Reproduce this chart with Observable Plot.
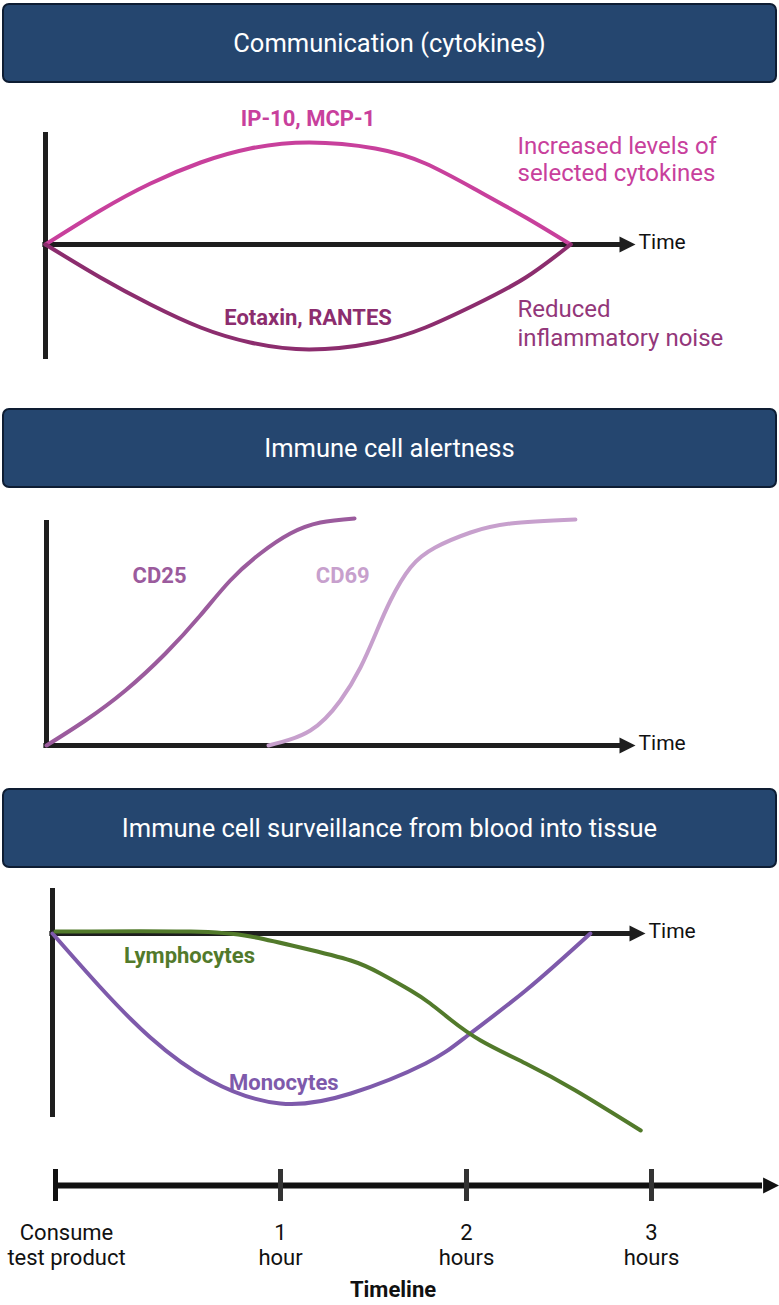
<!DOCTYPE html>
<html>
<head>
<meta charset="utf-8">
<script src="https://cdn.jsdelivr.net/npm/d3@7"></script>
<script src="https://cdn.jsdelivr.net/npm/@observablehq/plot@0.6"></script>
<style>
html, body { margin: 0; padding: 0; background: #fff; }
#root { position: relative; width: 779px; height: 1305px; overflow: hidden; font-family: Roboto, sans-serif; }
.hdr { position: absolute; left: 2px; width: 775px; height: 80px; box-sizing: border-box; background: #25466f;
       border: 2px solid #0e1d33; border-radius: 7px; color: #fff; font-size: 25.5px;
       display: flex; align-items: center; justify-content: center; }
.pl { position: absolute; left: 0; }
.pl svg { overflow: visible; display: block; }
#caption { position: absolute; left: 0; width: 786px; text-align: center; font-weight: bold; font-size: 22px; line-height: 24px; color: #111; }
</style>
</head>
<body>
<div id="root"></div>
<script>
// ---------- data ----------
const headers = ["Communication (cytokines)", "Immune cell alertness", "Immune cell surveillance from blood into tissue"];

// Panel 1: cytokines (relative time 0–100 along the axis, level relative to baseline)
const cytoT        = [0, 9.3, 17.8, 26.3, 34.7, 44.7, 55.9, 64.4, 72.9, 81.4, 89.0];
const ip10Level    = [0, 0.34, 0.61, 0.82, 0.96, 1.02, 0.96, 0.81, 0.55, 0.27, 0];
const eotaxinLevel = [0, -0.33, -0.60, -0.83, -0.98, -1.05, -0.98, -0.83, -0.60, -0.33, 0];
const cytoLabels   = ["IP-10, MCP-1", "Eotaxin, RANTES"];
const cytoNotes    = ["Increased levels of\nselected cytokines", "Reduced\ninflammatory noise"];

// Panel 2: activation markers
const cd25T     = [0, 6.6, 13.4, 20.2, 26.1, 31.2, 36.3, 41.4, 46.5, 52.3];
const cd25Level = [0, 0.25, 0.55, 0.92, 1.30, 1.65, 1.92, 2.12, 2.23, 2.27];
const cd69T     = [37.7, 44.8, 49.9, 53.3, 55.9, 58.4, 61.8, 66.0, 72.0, 78.8, 89.8];
const cd69Level = [0, 0.15, 0.45, 0.78, 1.12, 1.45, 1.78, 1.98, 2.13, 2.22, 2.26];
const markerLabels = ["CD25", "CD69"];

// Panel 3: cells in blood
const lymphT     = [0.5, 23.3, 33.4, 41.8, 50.3, 55.3, 60.4, 63.7, 67.1, 72.2, 79.8, 88.2, 99.2];
const lymphLevel = [0.02, 0.02, -0.03, -0.14, -0.27, -0.40, -0.57, -0.70, -0.86, -1.07, -1.30, -1.57, -1.97];
const monoT      = [0, 8.1, 16.5, 26.6, 38.4, 50.3, 62.9, 70.0, 79.8, 90.7];
const monoLevel  = [0, -0.54, -1.04, -1.47, -1.70, -1.60, -1.30, -1.02, -0.57, 0];
const cellLabels = ["Lymphocytes", "Monocytes"];

// Timeline
const timelineHours  = [0, 1, 2, 3];
const timelineLabels = ["Consume\ntest product", "1\nhour", "2\nhours", "3\nhours"];
const axisLabel = "Time";
const captionText = "Timeline";

// ---------- styling ----------
const AXIS = "#1e1e1e";
const C = { pink: "#c8409c", plum: "#8c2d6e", plumText: "#93377a", cd25: "#9b5b9d", cd69: "#c7a0cd",
            lymph: "#527a2b", mono: "#7e5aab" };
const FONT = "Roboto, sans-serif";

const arrowHead = { draw(ctx, size) { const s = Math.sqrt(size); ctx.moveTo(0, 0); ctx.lineTo(-s, -0.5 * s); ctx.lineTo(-s, 0.5 * s); ctx.closePath(); } };
const HEAD_R = 16 / Math.sqrt(Math.PI);
const zipT = (ts, vs) => ts.map((t, i) => ({ t, v: vs[i] }));

const root = document.getElementById("root");
function place(node, top) { const w = document.createElement("div"); w.className = "pl"; w.style.top = top + "px"; w.appendChild(node); root.appendChild(w); }
function header(text, top) { const d = document.createElement("div"); d.className = "hdr"; d.style.top = top + "px"; d.textContent = text; root.appendChild(d); }

function timeAxis(x2) {
  return [
    Plot.ruleY([0], { x1: -0.45, x2: x2 - 2.5, stroke: AXIS, strokeWidth: 5 }),
    Plot.dot([x2], { x: d => d, y: 0, symbol: arrowHead, r: HEAD_R, fill: AXIS, stroke: null }),
    Plot.text([axisLabel], { x: x2, y: 0, text: d => d, dx: 3, dy: -2, textAnchor: "start", fontSize: 21, fill: "#111" })
  ];
}
const curveStyle = { x: "t", y: "v", curve: "natural", strokeWidth: 4, strokeLinecap: "round" };
const base = { width: 779, style: { fontFamily: FONT, overflow: "visible", background: "transparent" } };

// ---------- Panel 1 ----------
header(headers[0], 3);
place(Plot.plot({
  ...base, height: 290, marginLeft: 45, marginRight: 144, marginTop: 42, marginBottom: 21,
  x: { type: "linear", domain: [0, 100], axis: null }, y: { type: "linear", domain: [-1.15, 1.12], axis: null },
  marks: [
    Plot.ruleX([0], { stroke: AXIS, strokeWidth: 5 }),
    ...timeAxis(100),
    Plot.line(zipT(cytoT, ip10Level), { ...curveStyle, stroke: C.pink }),
    Plot.line(zipT(cytoT, eotaxinLevel), { ...curveStyle, stroke: C.plum }),
    Plot.text([cytoLabels[0]], { x: 44.5, y: 1.26, text: d => d, fill: C.pink, fontWeight: "bold", fontSize: 22 }),
    Plot.text([cytoLabels[1]], { x: 44.5, y: -0.73, text: d => d, fill: C.plum, fontWeight: "bold", fontSize: 22 }),
    Plot.text([cytoNotes[0]], { x: 80.0, y: 0.855, text: d => d, fill: C.pink, fontSize: 24, textAnchor: "start", lineHeight: 1.13 }),
    Plot.text([cytoNotes[1]], { x: 80.0, y: -0.78, text: d => d, fill: C.plumText, fontSize: 24, textAnchor: "start", lineHeight: 1.2 })
  ]
}), 90);

// ---------- Panel 2 ----------
header(headers[1], 408);
place(Plot.plot({
  ...base, height: 270, marginLeft: 46, marginRight: 144, marginTop: 30, marginBottom: 15,
  x: { type: "linear", domain: [0, 100], axis: null }, y: { type: "linear", domain: [0, 2.25], axis: null },
  marks: [
    Plot.ruleX([0], { y1: -0.025, y2: 2.25, stroke: AXIS, strokeWidth: 5 }),
    ...timeAxis(100),
    Plot.line(zipT(cd25T, cd25Level), { ...curveStyle, stroke: C.cd25 }),
    Plot.line(zipT(cd69T, cd69Level), { ...curveStyle, stroke: C.cd69 }),
    Plot.text([markerLabels[0]], { x: 19.2, y: 1.70, text: d => d, fill: C.cd25, fontWeight: "bold", fontSize: 22 }),
    Plot.text([markerLabels[1]], { x: 50.3, y: 1.70, text: d => d, fill: C.cd69, fontWeight: "bold", fontSize: 22 })
  ]
}), 490);

// ---------- Panel 3 ----------
header(headers[2], 788);
place(Plot.plot({
  ...base, height: 280, marginLeft: 52, marginRight: 134, marginTop: 18, marginBottom: 33,
  x: { type: "linear", domain: [0, 100], axis: null }, y: { type: "linear", domain: [-1.84, 0.45], axis: null },
  marks: [
    Plot.ruleX([0], { stroke: AXIS, strokeWidth: 5 }),
    ...timeAxis(100),
    Plot.line(zipT(monoT, monoLevel), { ...curveStyle, stroke: C.mono }),
    Plot.line(zipT(lymphT, lymphLevel), { ...curveStyle, stroke: C.lymph }),
    Plot.text([cellLabels[0]], { x: 23.1, y: -0.22, text: d => d, fill: C.lymph, fontWeight: "bold", fontSize: 22 }),
    Plot.text([cellLabels[1]], { x: 39.0, y: -1.49, text: d => d, fill: C.mono, fontWeight: "bold", fontSize: 22 })
  ]
}), 870);

// ---------- Timeline ----------
place(Plot.plot({
  ...base, height: 130, marginLeft: 0, marginRight: 0, marginTop: 0, marginBottom: 0,
  x: { type: "linear", domain: [0, 1, 2, 3], range: [55, 280, 466, 651], axis: null },
  y: { type: "linear", domain: [-1, 1], range: [67, 3], axis: null },
  marks: [
    Plot.ruleY([0], { x1: 0, x2: 3.6, stroke: "#111", strokeWidth: 6 }),
    Plot.dot([3.69], { x: d => d, y: 0, symbol: arrowHead, r: HEAD_R, fill: "#111", stroke: null }),
    Plot.ruleX(timelineHours, { x: d => d, y1: -0.5, y2: 0.5, stroke: (d) => d === 0 ? "#111" : "#333", strokeWidth: 5 }),
    Plot.text(timelineHours.slice(0, 1), { x: d => d, y: -1.83, text: (d) => timelineLabels[d], dx: 11, fontSize: 22, lineHeight: 1.14, fill: "#111" }),
    Plot.text(timelineHours.slice(1), { x: d => d, y: -1.83, text: (d) => timelineLabels[d], fontSize: 22, lineHeight: 1.14, fill: "#111" })
  ]
}), 1150);

const cap = document.createElement("div");
cap.id = "caption"; cap.style.top = "1278px"; cap.textContent = captionText;
root.appendChild(cap);
</script>
</body>
</html>
